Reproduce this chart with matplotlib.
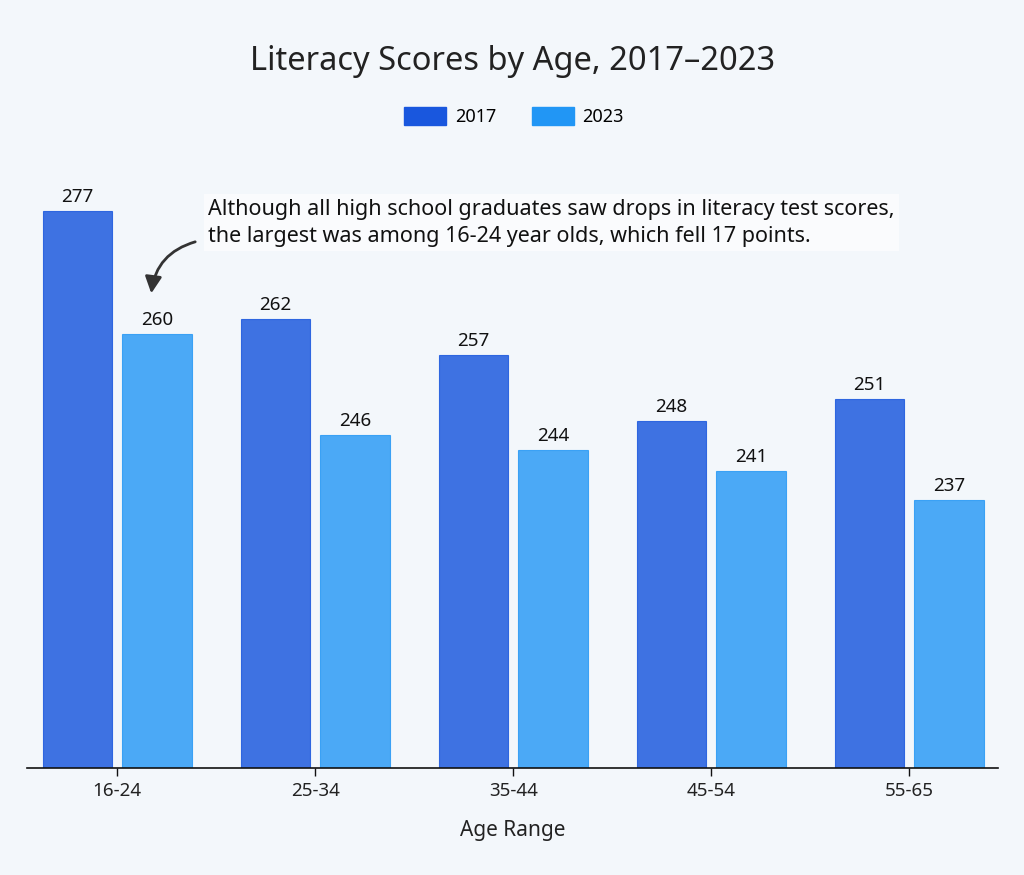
import numpy as np
import matplotlib.pyplot as plt
import matplotlib.patches as mpatches

plt.rcParams['font.family'] = ['Noto Sans', 'DejaVu Sans']

ageRanges = ['16-24', '25-34', '35-44', '45-54', '55-65']
scores2017 = [277, 262, 257, 248, 251]
scores2023 = [260, 246, 244, 241, 237]

bg = '#f3f7fb'
col2017 = '#1957de'
col2023 = '#2196f5'

fig = plt.figure(figsize=(10.24, 8.75), dpi=100)
fig.patch.set_facecolor(bg)
ax = fig.add_axes([0.026, 0.122, 0.949, 0.72])
ax.set_facecolor(bg)

x = np.arange(len(ageRanges))
w = 0.35
b1 = ax.bar(x - 0.2, scores2017, w, color=col2017, alpha=0.83, edgecolor=col2017, linewidth=0.8)
b2 = ax.bar(x + 0.2, scores2023, w, color=col2023, alpha=0.8, edgecolor=col2023, linewidth=0.8)

# value labels on top of each bar
for bars in (b1, b2):
    for rect in bars:
        ax.text(rect.get_x() + rect.get_width() / 2, rect.get_height() + 0.7,
                f'{int(rect.get_height())}', ha='center', va='bottom',
                fontsize=13.5, color='#111111')

ax.set_ylim(200, 287)
ax.set_xlim(-0.458, 4.45)
ax.set_xticks(x)
ax.set_xticklabels(ageRanges, fontsize=13.5, color='#222222')
ax.set_yticks([])
for s in ['top', 'right', 'left']:
    ax.spines[s].set_visible(False)
ax.spines['bottom'].set_color('#111111')
ax.spines['bottom'].set_linewidth(1.2)
ax.tick_params(axis='x', length=6, width=1, color='#111111', pad=4)
ax.set_xlabel('Age Range', fontsize=15, color='#222222', labelpad=14)

fig.text(0.501, 0.93, 'Literacy Scores by Age, 2017\u20132023', ha='center', va='center',
         fontsize=23.5, color='#222222')

handles = [mpatches.Patch(color=col2017, label='2017'), mpatches.Patch(color=col2023, label='2023')]
fig.legend(handles=handles, loc='center', bbox_to_anchor=(0.502, 0.867), ncol=2, frameon=False,
           fontsize=13, handlelength=2.3, handleheight=1.15, columnspacing=2.0, handletextpad=0.5)

note = ('Although all high school graduates saw drops in literacy test scores,\n'
        'the largest was among 16-24 year olds, which fell 17 points.')
ax.text(0.458, 275.3, note, ha='left', va='center', fontsize=15.5, color='#111111', linespacing=1.4,
        bbox=dict(boxstyle='square,pad=0.2', facecolor='white', edgecolor='none', alpha=0.6))
ax.annotate('', xy=(0.17, 265.2), xytext=(0.407, 272.8),
            arrowprops=dict(arrowstyle='-|>,head_length=1.0,head_width=0.5', color='#333333',
                            linewidth=2, connectionstyle='arc3,rad=0.35'))

plt.savefig('out.png', facecolor=bg)
